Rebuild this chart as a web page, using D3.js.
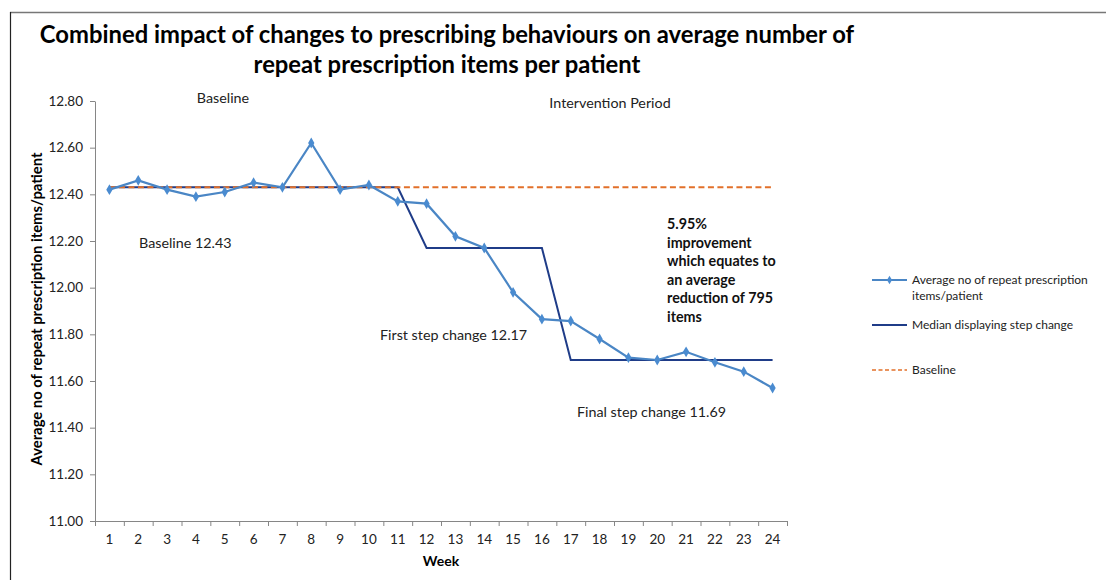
<!DOCTYPE html>
<html>
<head>
<meta charset="utf-8">
<script src="https://cdn.jsdelivr.net/npm/d3@7/dist/d3.min.js"></script>
<style>
  body { margin: 0; background: #fff; }
  svg { display: block; font-family: Lato, "Open Sans", sans-serif; }
</style>
</head>
<body>
<svg id="chart" width="1106" height="580"></svg>
<script>
const weeks = [1,2,3,4,5,6,7,8,9,10,11,12,13,14,15,16,17,18,19,20,21,22,23,24];
const averageItems = [12.42,12.46,12.42,12.39,12.41,12.45,12.43,12.62,12.42,12.44,12.37,12.36,12.22,12.17,11.98,11.865,11.857,11.78,11.70,11.69,11.725,11.68,11.64,11.57];
const medianStep = [12.43,12.43,12.43,12.43,12.43,12.43,12.43,12.43,12.43,12.43,12.43,12.17,12.17,12.17,12.17,12.17,11.69,11.69,11.69,11.69,11.69,11.69,11.69,11.69];
const baseline = weeks.map(() => 12.43);
const yTicks = [11.00,11.20,11.40,11.60,11.80,12.00,12.20,12.40,12.60,12.80];
const titleLines = ["Combined impact of changes to prescribing behaviours on average number of", "repeat prescription items per patient"];
const legendLabels = [["Average no of repeat prescription", "items/patient"], ["Median displaying step change"], ["Baseline"]];
const improvementLines = ["5.95%", "improvement", "which equates to", "an average", "reduction of 795", "items"];

const svg = d3.select("#chart");
const mLeft = 95, mRight = 787, mTop = 101, mBottom = 521;

const x = d3.scaleBand().domain(weeks).range([mLeft, mRight]).paddingInner(0).paddingOuter(0);
const xEdge = d3.scaleLinear().domain([0, weeks.length]).range([mLeft, mRight]);
const y = d3.scaleLinear().domain([11.0, 12.8]).range([mBottom, mTop]);
const cx = d => x(d) + x.bandwidth() / 2;

// frame
svg.append("line").attr("x1", 10).attr("x2", 1106).attr("y1", 12.5).attr("y2", 12.5).attr("stroke", "#777").attr("stroke-width", 1.5);
svg.append("line").attr("x1", 10.5).attr("x2", 10.5).attr("y1", 12).attr("y2", 580).attr("stroke", "#222").attr("stroke-width", 1.2);

// title
svg.append("g").selectAll("text").data(titleLines).join("text")
  .attr("x", 447).attr("y", (d, i) => 43 + i * 30)
  .attr("text-anchor", "middle").attr("font-weight", "bold").attr("font-size", 23.8).attr("fill", "#000")
  .text(d => d);

// y axis
const yAxis = svg.append("g").attr("transform", `translate(${mLeft},0)`)
  .call(d3.axisLeft(y).tickValues(yTicks).tickFormat(d3.format(".2f")).tickSize(5).tickSizeOuter(0));
yAxis.select(".domain").attr("stroke", "#868686");
yAxis.selectAll(".tick line").attr("stroke", "#868686");
yAxis.selectAll("text").attr("font-size", 13.5).attr("fill", "#222").attr("font-family", "Lato, sans-serif").attr("x", -12);

// x axis
const xAxisEdges = svg.append("g").attr("transform", `translate(0,${mBottom})`)
  .call(d3.axisBottom(xEdge).tickValues(d3.range(0, weeks.length + 1)).tickFormat("").tickSize(5).tickSizeOuter(0));
xAxisEdges.select(".domain").attr("stroke", "#868686");
xAxisEdges.selectAll(".tick line").attr("stroke", "#868686");
const xAxis = svg.append("g").attr("transform", `translate(0,${mBottom})`)
  .call(d3.axisBottom(x).tickSize(0));
xAxis.select(".domain").remove();
xAxis.selectAll("text").attr("font-size", 13.5).attr("fill", "#222").attr("dy", "1.45em").attr("font-family", "Lato, sans-serif");

// axis titles
svg.append("text").attr("x", 441).attr("y", 566).attr("text-anchor", "middle")
  .attr("font-weight", "bold").attr("font-size", 14).text("Week");
svg.append("text").attr("transform", `translate(42,${(mTop + mBottom) / 2 - 2}) rotate(-90)`).attr("text-anchor", "middle")
  .attr("font-weight", "bold").attr("font-size", 14.8).text("Average no of repeat prescription items/patient");

// median step line
const line = (vals) => d3.line().x((d, i) => cx(weeks[i])).y(d => y(d))(vals);
svg.append("path").attr("d", line(medianStep)).attr("fill", "none").attr("stroke", "#1F3C88").attr("stroke-width", 2);

// baseline dashed
svg.append("path").attr("d", line(baseline)).attr("fill", "none").attr("stroke", "#E2702A")
  .attr("stroke-width", 2).attr("stroke-dasharray", "6,3.5");

// average series
svg.append("path").attr("d", line(averageItems)).attr("fill", "none").attr("stroke", "#4A86C5").attr("stroke-width", 2.2);
const diamond = d3.symbol().type(d3.symbolDiamond).size(34);
svg.append("g").selectAll("path").data(averageItems).join("path")
  .attr("transform", (d, i) => `translate(${cx(weeks[i])},${y(d)})`)
  .attr("d", diamond).attr("fill", "#4A8BD0");

// annotations
const ann = svg.append("g").attr("font-size", 14.3).attr("fill", "#222");
ann.append("text").attr("x", 223).attr("y", 103).attr("text-anchor", "middle").text("Baseline");
ann.append("text").attr("x", 610).attr("y", 108).attr("text-anchor", "middle").text("Intervention Period");
ann.append("text").attr("x", 139).attr("y", 248).text("Baseline 12.43");
ann.append("text").attr("x", 380).attr("y", 340).text("First step change 12.17");
ann.append("text").attr("x", 577).attr("y", 417).text("Final step change 11.69");

svg.append("g").selectAll("text").data(improvementLines).join("text")
  .attr("x", 667).attr("y", (d, i) => 229 + i * 18.5)
  .attr("font-size", 14.3).attr("font-weight", "bold").attr("fill", "#111").text(d => d);

// legend
const lg = svg.append("g").attr("font-size", 12).attr("fill", "#222");
const lx1 = 872, lx2 = 907, tx = 912;
lg.append("line").attr("x1", lx1).attr("x2", lx2).attr("y1", 280).attr("y2", 280).attr("stroke", "#4A86C5").attr("stroke-width", 2);
lg.append("path").attr("transform", `translate(${(lx1 + lx2) / 2},280)`).attr("d", d3.symbol().type(d3.symbolDiamond).size(22)).attr("fill", "#4A8BD0");
lg.append("line").attr("x1", lx1).attr("x2", lx2).attr("y1", 325).attr("y2", 325).attr("stroke", "#1F3C88").attr("stroke-width", 2);
lg.append("line").attr("x1", lx1).attr("x2", lx2).attr("y1", 370).attr("y2", 370).attr("stroke", "#E2702A").attr("stroke-width", 1.6).attr("stroke-dasharray", "4,2.5");
const legendY = [[284, 300], [329], [374]];
legendLabels.forEach((lines, i) => {
  lines.forEach((t, j) => lg.append("text").attr("x", tx).attr("y", legendY[i][j]).text(t));
});
</script>
</body>
</html>
